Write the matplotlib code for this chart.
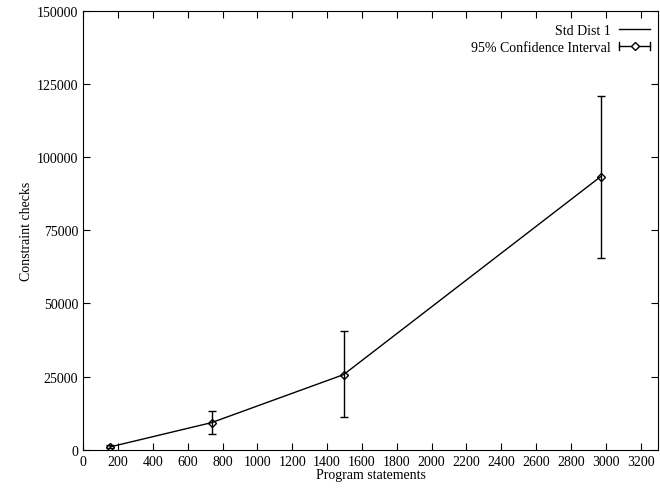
import numpy as np
import matplotlib.pyplot as plt
from matplotlib.lines import Line2D
from matplotlib.legend_handler import HandlerBase

plt.rcParams['font.family'] = ['Liberation Serif', 'DejaVu Serif']
plt.rcParams['font.size'] = 10

# values
statements = [154, 737, 1495, 2970]
checks = [1000, 9300, 25700, 93300]
ci_low = [500, 5300, 11300, 65600]
ci_high = [1500, 13200, 40600, 121000]

xticks = list(range(0, 3201, 200))
yticks = [0, 25000, 50000, 75000, 100000, 125000, 150000]


# gnuplot-like key sample for error bars: horizontal bar, end caps, diamond
class ErrKeyHandler(HandlerBase):
    def create_artists(self, legend, orig, xd, yd, width, height, fontsize, trans):
        y = yd + height / 2
        x0, x1 = xd, xd + width
        bar = Line2D([x0, x1], [y, y], color='black', lw=1)
        c0 = Line2D([x0, x0], [y - 3, y + 3], color='black', lw=1)
        c1 = Line2D([x1, x1], [y - 3, y + 3], color='black', lw=1)
        dm = Line2D([(x0 + x1) / 2], [y], marker='D', ms=4, mfc='white',
                    mec='black', ls='none')
        arts = [bar, c0, c1, dm]
        for a in arts:
            a.set_transform(trans)
        return arts


fig = plt.figure(figsize=(6.6, 4.89), dpi=100)
ax = fig.add_axes([0.126, 0.078, 0.871, 0.898])

lo = np.array(checks) - np.array(ci_low)
hi = np.array(ci_high) - np.array(checks)

line, = ax.plot(statements, checks, color='black', lw=1)
eb = ax.errorbar(statements, checks, yerr=[lo, hi], fmt='D', ms=4, mfc='none',
                 mec='black', color='black', ecolor='black', elinewidth=1,
                 capsize=3, capthick=1)

ax.set_xlim(0, 3300)
ax.set_ylim(0, 150000)
ax.set_xticks(xticks)
ax.set_yticks(yticks)
ax.tick_params(direction='in', top=True, right=True, length=5, width=0.8, labelsize=10)
ax.set_xlabel('Program statements', labelpad=0)
ax.set_ylabel('Constraint checks', labelpad=3)

err_key = object()
leg = ax.legend([line, err_key], ['Std Dist 1', '95% Confidence Interval'],
                handler_map={object: ErrKeyHandler()},
                loc='upper right', bbox_to_anchor=(0.9957, 0.982),
                frameon=False, markerfirst=False,
                handlelength=2.2, borderaxespad=0, labelspacing=0.25,
                handletextpad=0.6, fontsize=10)

fig.savefig('out.png', dpi=100)
